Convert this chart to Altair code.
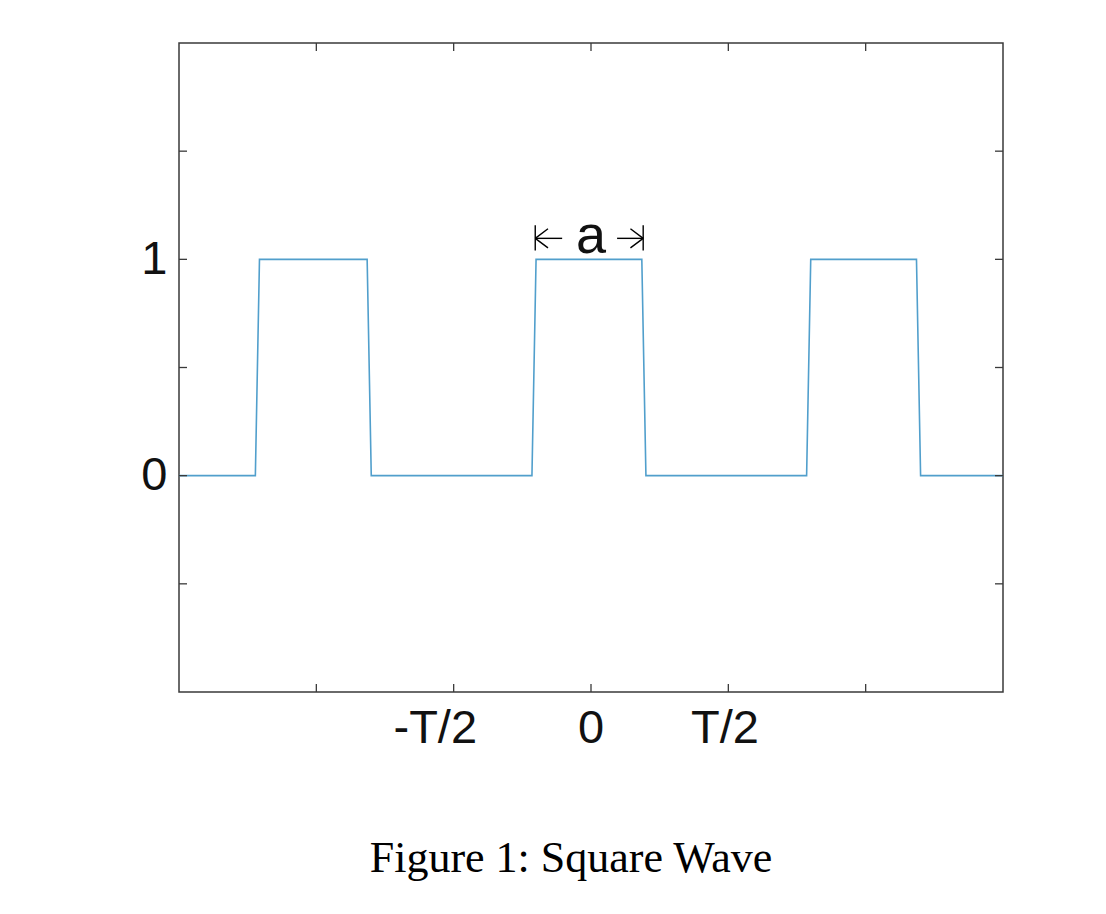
import altair as alt
import pandas as pd

# square wave samples, x in units of the period T
wave_x = [-1.5, -1.222, -1.207, -0.815, -0.8, -0.215, -0.2, 0.185, 0.2, 0.785, 0.8, 1.185, 1.2, 1.5]
wave_y = [0, 0, 1, 1, 0, 0, 1, 1, 0, 0, 1, 1, 0, 0]

x_ticks = [-1.0, -0.5, 0.0, 0.5, 1.0]
# x labels as placed in the figure (slightly off their ticks)
x_label_pos = [-0.567, 0.0, 0.488]
x_labels = ["-T/2", "0", "T/2"]
y_ticks = [-0.5, 0.0, 0.5, 1.0, 1.5]
y_labels = ["", "0", "", "1", ""]

# the "a" width marker above the centre pulse
marker_edges = [-0.203, 0.19]
shaft_start = [-0.203, 0.19]
shaft_end = [-0.105, 0.095]
arrow_y = 1.097
bar_lo, bar_hi = 1.041, 1.157

W, H = 824, 649
LINE = "#519fcc"
FRAME = "#3a3a3a"
SANS = "Liberation Sans"


def label_expr(values, labels):
    expr = "''"
    for v, l in zip(values, labels):
        if l:
            expr = f"abs(datum.value - ({v})) < 1e-6 ? '{l}' : " + expr
    return expr


xs = alt.Scale(domain=[-1.5, 1.5], nice=False, zero=False)
ys = alt.Scale(domain=[-1, 2], nice=False, zero=False)

wave_df = pd.DataFrame({"x": wave_x, "y": wave_y})

wave = alt.Chart(wave_df).mark_line(color=LINE, strokeWidth=1.6).encode(
    x=alt.X("x:Q", scale=xs, axis=None),
    y=alt.Y("y:Q", scale=ys, axis=alt.Axis(
        values=y_ticks, labelExpr=label_expr(y_ticks, y_labels), ticks=False, domain=False,
        grid=False, title=None, labelFont=SANS, labelFontSize=47,
        labelColor="#111111", labelPadding=12, labelFlush=False)),
    order="idx:Q",
).transform_window(idx="row_number()")

xl = alt.Chart(pd.DataFrame({"x": x_label_pos, "t": x_labels})).mark_text(
    font=SANS, fontSize=47, color="#111111", baseline="top", align="center").encode(
    x=alt.X("x:Q", scale=xs), y=alt.value(H + 14), text="t:N")

xt = pd.DataFrame({"t": x_ticks})
yt = pd.DataFrame({"t": y_ticks})

# inward ticks on all four sides, MATLAB style
tick_bottom = alt.Chart(xt).mark_rule(color=FRAME, strokeWidth=1.3).encode(
    x=alt.X("t:Q", scale=xs), y=alt.value(H), y2=alt.value(H - 8))
tick_top = alt.Chart(xt).mark_rule(color=FRAME, strokeWidth=1.3).encode(
    x=alt.X("t:Q", scale=xs), y=alt.value(0), y2=alt.value(8))
tick_left = alt.Chart(yt).mark_rule(color=FRAME, strokeWidth=1.3).encode(
    y=alt.Y("t:Q", scale=ys), x=alt.value(0), x2=alt.value(8))
tick_right = alt.Chart(yt).mark_rule(color=FRAME, strokeWidth=1.3).encode(
    y=alt.Y("t:Q", scale=ys), x=alt.value(W), x2=alt.value(W - 8))

# width marker
bars = alt.Chart(pd.DataFrame({"x": marker_edges, "lo": bar_lo, "hi": bar_hi})).mark_rule(
    color="black", strokeWidth=1.4).encode(
    x=alt.X("x:Q", scale=xs), y=alt.Y("lo:Q", scale=ys), y2="hi:Q")
shafts = alt.Chart(pd.DataFrame({"x": shaft_start, "x2": shaft_end, "y": arrow_y})).mark_rule(
    color="black", strokeWidth=1.4).encode(
    x=alt.X("x:Q", scale=xs), x2="x2:Q", y=alt.Y("y:Q", scale=ys))
head_left = alt.Chart(pd.DataFrame({"x": [marker_edges[0]], "y": [arrow_y]})).mark_point(
    shape="M0,0L1,-0.75M0,0L1,0.75", size=650, filled=False, color="black",
    strokeWidth=1.4, opacity=1).encode(x=alt.X("x:Q", scale=xs), y=alt.Y("y:Q", scale=ys))
head_right = alt.Chart(pd.DataFrame({"x": [marker_edges[1]], "y": [arrow_y]})).mark_point(
    shape="M0,0L-1,-0.75M0,0L-1,0.75", size=650, filled=False, color="black",
    strokeWidth=1.4, opacity=1).encode(x=alt.X("x:Q", scale=xs), y=alt.Y("y:Q", scale=ys))
a_label = alt.Chart(pd.DataFrame({"x": [0.0], "y": [1.03], "t": ["a"]})).mark_text(
    font=SANS, fontSize=54, color="#111111", baseline="alphabetic", align="center").encode(
    x=alt.X("x:Q", scale=xs), y=alt.Y("y:Q", scale=ys), text="t:N")

caption = alt.Chart(pd.DataFrame({"t": ["Figure 1: Square Wave"]})).mark_text(
    font="Liberation Serif", fontSize=44, color="black", baseline="alphabetic", align="center").encode(
    x=alt.value(392), y=alt.value(829), text="t:N")

chart = alt.layer(
    wave, xl, tick_bottom, tick_top, tick_left, tick_right,
    bars, shafts, head_left, head_right, a_label, caption,
).properties(
    width=W, height=H,
    background="white",
    autosize=alt.AutoSizeParams(type="none"),
    padding={"left": 171, "top": 35, "right": 95, "bottom": 214},
).configure_view(
    stroke=FRAME, strokeWidth=1.5
)

chart.save("out.html", embed_options={"renderer": "svg", "actions": False})
